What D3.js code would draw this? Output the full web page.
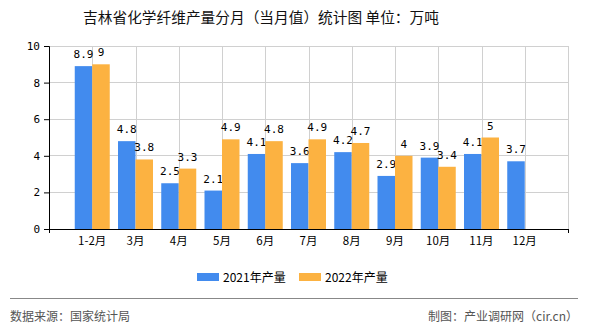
<!DOCTYPE html>
<html><head><meta charset="utf-8">
<script src="https://cdn.jsdelivr.net/npm/d3@7"></script>
<style>
html,body{margin:0;padding:0;background:#fff;}
svg{display:block;}
</style></head>
<body>
<svg id="chart" width="590" height="330"></svg>
<script>
const categories = ["1-2月","3月","4月","5月","6月","7月","8月","9月","10月","11月","12月"];
const values2021 = [8.9,4.8,2.5,2.1,4.1,3.6,4.2,2.9,3.9,4.1,3.7];
const values2022 = [9,3.8,3.3,4.9,4.8,4.9,4.7,4,3.4,5,null];
const seriesNames = ["2021年产量","2022年产量"];
const yTicks = [0,2,4,6,8,10];
const colors = ["#428BEE","#FCB241"];
const titleText = "吉林省化学纤维产量分月（当月值）统计图 单位：万吨";
const sourceText = "数据来源：国家统计局";
const creditText = "制图：产业调研网（cir.cn）";

const svg = d3.select("#chart");
const L = 49, R = 568, T = 46, B = 229;
const cjk = "'Noto Sans CJK SC', sans-serif";
const mono = "'DejaVu Sans Mono', 'Liberation Mono', monospace";

// title
svg.append("text").attr("x", 261).attr("y", 23).attr("text-anchor","middle")
  .style("font-family", cjk).style("font-size","14.7px").attr("fill","#111")
  .text(titleText);

// scales
const slots = ["_start", ...categories, "_end"];
const x = d3.scalePoint().domain(slots).range([L, R]);
const y = d3.scaleLinear().domain([0,10]).range([B, T]);

// gridlines
const g = svg.append("g");
g.selectAll(".hg").data(yTicks.filter(d=>d>0)).join("line")
  .attr("x1", L).attr("x2", R).attr("y1", d=>y(d)).attr("y2", d=>y(d))
  .attr("stroke","#d0d0d0").attr("stroke-width",1).attr("shape-rendering","crispEdges");
g.selectAll(".vg").data([...categories, "_end"]).join("line")
  .attr("x1", d=>Math.round(x(d))+0.5).attr("x2", d=>Math.round(x(d))+0.5).attr("y1", T).attr("y2", B)
  .attr("stroke","#d0d0d0").attr("stroke-width",1);

// bars
const bw = 17.5;
const data = categories.map((c,i)=>({c, v:[values2021[i], values2022[i]]}));
[0,1].forEach(s=>{
  const valid = data.filter(d=>d.v[s]!=null);
  svg.append("g").selectAll("rect").data(valid).join("rect")
    .attr("x", d=> s===0 ? x(d.c)-bw : x(d.c))
    .attr("width", bw)
    .attr("y", d=>y(d.v[s]))
    .attr("height", d=>B - y(d.v[s]))
    .attr("fill", colors[s]);
  svg.append("g").selectAll("text").data(valid).join("text")
    .attr("x", d=> s===0 ? x(d.c)-bw/2 : x(d.c)+bw/2)
    .attr("y", d=>y(d.v[s]) - 8)
    .attr("text-anchor","middle")
    .style("font-family", mono).style("font-size","11px").attr("fill","#000")
    .text(d=>d.v[s]);
});

// y axis
const yAxis = d3.axisLeft(y).tickValues(yTicks).tickSize(5).tickPadding(4);
const ya = svg.append("g").attr("transform",`translate(${L},0)`).call(yAxis);
ya.select(".domain").attr("stroke","#000");
ya.selectAll(".tick line").attr("stroke","#000");
ya.selectAll("text").style("font-family", mono).style("font-size","11px").attr("fill","#000");

// x axis
const xAxis = d3.axisBottom(x).tickValues(["_start","_end"]).tickSize(4).tickFormat("");
const xa = svg.append("g").attr("transform",`translate(0,${B})`).call(xAxis);
xa.select(".domain").attr("stroke","#000").attr("d", `M${L},0.5H${R}`);
xa.selectAll(".tick line").attr("stroke","#000");
svg.append("g").selectAll("text").data(categories).join("text")
  .attr("x", d=>x(d)).attr("y", B+16).attr("text-anchor","middle")
  .style("font-family", cjk).style("font-size","11.5px").attr("fill","#000")
  .text(d=>d);

// legend
const lg = svg.append("g");
const legendX = [197, 299];
seriesNames.forEach((n,i)=>{
  lg.append("rect").attr("x", legendX[i]).attr("y", 273).attr("width", 22).attr("height", 8).attr("fill", colors[i]);
  lg.append("text").attr("x", legendX[i]+26).attr("y", 281.5)
    .style("font-family", cjk).style("font-size","12px").attr("fill","#000").text(n);
});

// footer
svg.append("line").attr("x1",10).attr("x2",578).attr("y1",298.5).attr("y2",298.5).attr("stroke","#888").attr("stroke-width",1);
svg.append("text").attr("x",10).attr("y",321).style("font-family", cjk).style("font-size","12px").attr("fill","#555").text(sourceText);
svg.append("text").attr("x",578).attr("y",321).attr("text-anchor","end").style("font-family", cjk).style("font-size","12px").attr("fill","#555").text(creditText);
</script>
</body></html>
